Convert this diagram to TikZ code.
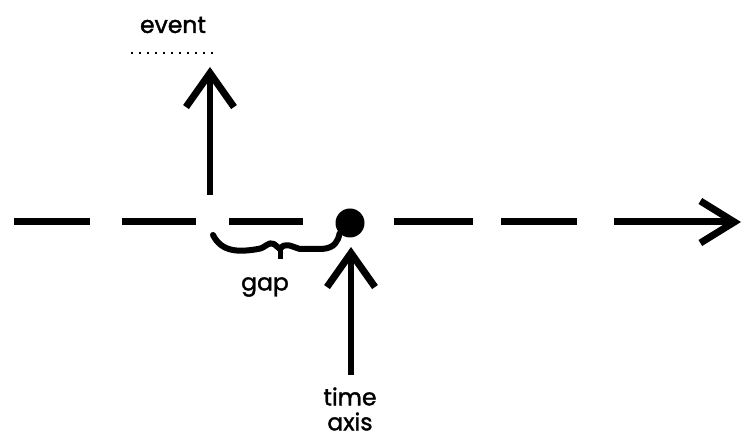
\documentclass[tikz,border=0pt]{standalone}
\usepackage{fontspec}
\setmainfont{Poppins}[FakeBold=1.6]
\usetikzlibrary{arrows.meta}
\tikzset{
  thickarrow/.style={line width=6pt, -{Straight Barb[length=34pt,width=48pt,line width=7pt]}},
  lbl/.style={font=\fontsize{23.5}{25}\selectfont, inner sep=0pt},
}
\begin{document}
\begin{tikzpicture}[x=1pt,y=-1pt]
    \useasboundingbox (0,0) rectangle (742,435);
    % 定义坐标
    \coordinate (axisL) at (14,222);
    \coordinate (axisR) at (741,222);
    \coordinate (evBot) at (210,195);
    \coordinate (evTop) at (210,67);
    \coordinate (tmBot) at (351,375);
    \coordinate (tmTop) at (351,247);
    \coordinate (gapL) at (213,235);
    \coordinate (dotsL) at (131,53);
    \coordinate (dotsR) at (213,53);

    % 时间轴
    \draw[line width=7pt, dash pattern=on 76pt off 32pt on 74pt off 33pt on 74pt off 91pt on 79pt off 28pt on 76pt off 37pt on 200pt off 10pt,
          -{Straight Barb[length=34pt,width=42pt,line width=7pt]}] (axisL) -- (axisR);
    \node[circle, fill, minimum size=29pt, inner sep=0pt] (dot) at (350,223) {};

    % 事件箭头
    \draw[thickarrow] (evBot) -- (evTop);
    \draw[line width=2pt, dash pattern=on 2pt off 6pt] (dotsL) -- (dotsR);
    \node[lbl] (event) at (173,25) {event};

    % 间隔
    \draw[line width=6pt, line cap=round, line join=round] (gapL)
        .. controls (222,253) and (240,252) .. (258,249)
        .. controls (266,248) and (268,241) .. (274,244)
        -- (280,249)
        .. controls (285,242) and (290,246) .. (300,249)
        -- (322,249) .. controls (335,248) and (338,241) .. (dot.south west);
    \draw[line width=5pt] (280,249) -- (280,259);
    \node[lbl] (gap) at (265,287) {gap};

    % 时间箭头
    \draw[thickarrow] (tmBot) -- (tmTop);
    \node[lbl, align=center] (time) at (350,409) {time\\axis};
\end{tikzpicture}
\end{document}
